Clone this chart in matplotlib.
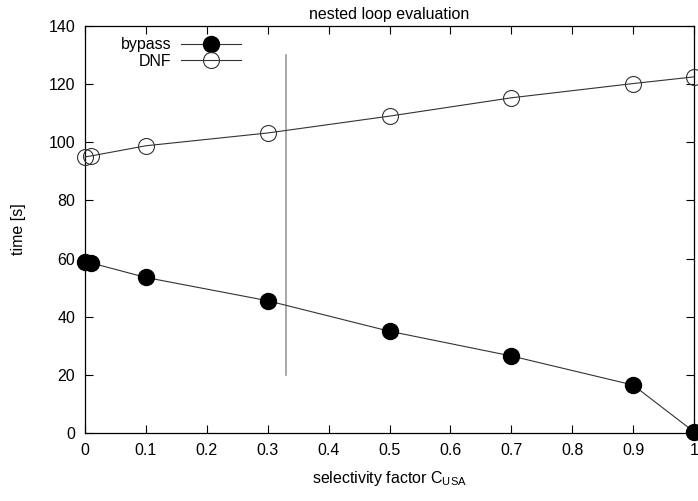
import matplotlib
matplotlib.use("Agg")
import matplotlib.pyplot as plt

plt.rcParams['font.family'] = ['Liberation Sans', 'DejaVu Sans']
plt.rcParams['mathtext.fontset'] = 'custom'
plt.rcParams['mathtext.rm'] = 'Liberation Sans'
plt.rcParams['mathtext.it'] = 'Liberation Sans'

x_vals = [0, 0.01, 0.1, 0.3, 0.5, 0.7, 0.9, 1.0]
bypass = [58.7, 58.5, 53.5, 45.5, 35.0, 26.5, 16.5, 0.4]
dnf = [95.0, 95.3, 98.8, 103.2, 109.0, 115.3, 120.2, 122.5]
vline_x = 0.33
vline_y = [20, 130]
xticks = [0, 0.1, 0.2, 0.3, 0.4, 0.5, 0.6, 0.7, 0.8, 0.9, 1]
xtick_labels = ['0', '0.1', '0.2', '0.3', '0.4', '0.5', '0.6', '0.7', '0.8', '0.9', '1']
yticks = [0, 20, 40, 60, 80, 100, 120, 140]

fig = plt.figure(figsize=(6.98, 5.01), dpi=100)
ax = fig.add_axes([85/698, 1-433/501, (694-85)/698, (433-26)/501])

ax.plot(x_vals, bypass, color='#333333', lw=0.8, marker='o', markersize=11.5,
        markerfacecolor='black', markeredgecolor='black', label='bypass', clip_on=False, zorder=3)
ax.plot(x_vals, dnf, color='#333333', lw=0.8, marker='o', markersize=11.5,
        markerfacecolor='none', markeredgecolor='#333333', markeredgewidth=0.8, label='DNF', clip_on=False, zorder=3)
ax.plot([vline_x, vline_x], vline_y, color='#999999', lw=1.2)

ax.set_xlim(0, 1)
ax.set_ylim(0, 140)
ax.set_xticks(xticks)
ax.set_xticklabels(xtick_labels)
ax.set_yticks(yticks)
ax.tick_params(direction='in', top=True, right=True, length=6, width=0.8, labelsize=11.5, pad=7)
for s in ax.spines.values():
    s.set_linewidth(0.9)

ax.set_title('nested loop evaluation', fontsize=11.5, pad=5)
ax.set_xlabel('selectivity factor C$_{\\rm USA}$', fontsize=11.5, labelpad=8)
ax.set_ylabel('time [s]', fontsize=11.5, labelpad=16)

leg = ax.legend(loc='upper left', bbox_to_anchor=(0.04, 1.0), frameon=False, markerfirst=False,
                fontsize=11.5, handlelength=3.8, handletextpad=0.6, labelspacing=0.1,
                borderaxespad=0.3)

fig.savefig('out.png', dpi=100)
